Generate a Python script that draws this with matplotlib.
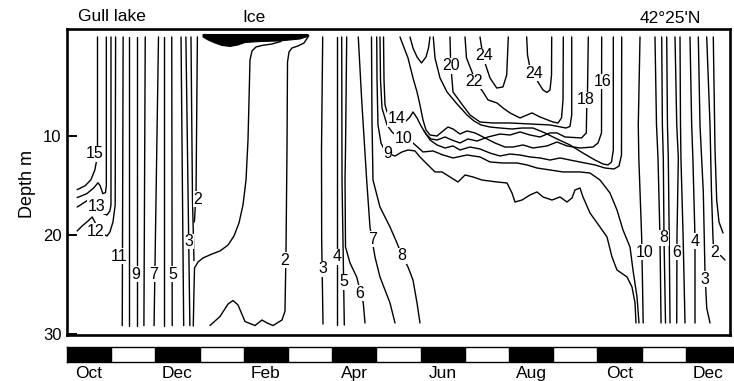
"""
Gull Lake isotherms: depth-time diagram from October to December of the next year.
"""

import matplotlib.pyplot as plt
from matplotlib.patches import Polygon, Rectangle

plt.rcParams["font.family"] = ["Liberation Sans", "DejaVu Sans"]

# t: months since 1 October, z: depth in m
months = ["Oct", "Nov", "Dec", "Jan", "Feb", "Mar", "Apr", "May", "Jun",
          "Jul", "Aug", "Sep", "Oct", "Nov", "Dec"]
depth_ticks = [10, 20, 30]

# --- first autumn ---------------------------------------------------------
t15 = [0.69, 0.69, 0.68, 0.63, 0.54, 0.41, 0.23]
z15 = [-0.1, 10.9, 12.2, 13.4, 14.4, 15.0, 15.4]
t14a = [0.89, 0.89, 0.87, 0.81, 0.75, 0.70, 0.61, 0.45, 0.29, 0.23]
z14a = [-0.1, 15.0, 15.7, 15.8, 15.0, 14.7, 15.2, 15.8, 16.1, 16.2]
t13 = [0.995, 0.995, 0.97, 0.905, 0.79, 0.66, 0.475, 0.34, 0.23]
z13 = [-0.1, 16.95, 17.56, 17.97, 17.77, 17.16, 16.45, 16.85, 17.16]
t12a = [1.10, 1.09, 1.04, 0.97, 0.905, 0.75, 0.63, 0.57, 0.475, 0.34, 0.23]
z12a = [-0.1, 16.95, 18.68, 19.70, 20.10, 19.70, 18.68, 18.17, 18.58, 19.09, 19.59]

# nearly vertical isotherms 11 ... 3 (time at surface / at bottom)
fall1_t_top = [1.27, 1.40, 1.58, 1.77, 2.07, 2.20, 2.37, 2.58, 2.69]
fall1_t_bot = [1.25, 1.40, 1.58, 1.74, 1.97, 2.20, 2.38, 2.64, 2.78]
fall1_z = [-0.1, 29.2]

t2a = [2.95, 2.92, 2.90, 2.885, 2.875]
z2a = [-0.1, 15.4, 17.3, 18.5, 18.7]
t3top = [2.805, 2.839, 2.873]
z3top = [-0.1, 16.4, 22.6]

# --- winter -----------------------------------------------------------------
t3w = [2.857, 2.873, 2.885, 2.964, 3.077, 3.281, 3.462, 3.643, 3.778, 3.891,
       3.982, 4.050, 4.095, 4.118, 4.140, 4.186, 4.276, 4.412, 4.638, 4.842]
z3w = [29.24, 25.58, 23.35, 22.74, 22.33, 21.93, 21.62, 21.02, 20.10, 18.78,
       16.95, 14.42, 10.36, 6.29, 2.23, 1.32, 0.91, 0.76, 0.61, 0.35]
t2w = [5.452, 5.362, 5.226, 5.090, 5.023, 4.989, 4.977, 4.955, 4.932, 4.864,
       4.661, 4.525, 4.412, 4.253, 4.027, 3.869, 3.756, 3.643, 3.462, 3.235]
z2w = [-0.1, 0.51, 0.81, 1.02, 1.42, 2.44, 11.37, 21.52, 27.72, 28.63,
       29.19, 28.93, 28.63, 29.19, 28.78, 27.1, 26.65, 27.01, 28.27, 29.19]
ice_t = [3.077, 5.452, 5.475, 5.271, 4.819, 4.367, 4.027, 3.869, 3.688,
         3.507, 3.348, 3.190, 3.077]
ice_z = [-0.35, -0.35, -0.2, 0.1, 0.3, 0.36, 0.46, 0.71, 0.86, 0.76, 0.51,
         0.2, -0.1]

# --- spring -----------------------------------------------------------------
t3s = [5.785, 5.758, 5.762, 5.792]
z3s = [-0.1, 11.37, 20.51, 29.04]
t4s = [6.102, 6.102]
z4s = [-0.1, 29.14]
t5s = [6.215, 6.222, 6.274]
z5s = [-0.1, 14.42, 29.14]
t6s = [6.328, 6.301, 6.290, 6.301, 6.403, 6.554, 6.703, 6.742]
z6s = [-0.1, 11.37, 14.42, 21.22, 22.84, 24.26, 26.9, 28.93]
t7s = [6.590, 6.667, 6.780, 6.855, 6.968, 7.081, 7.308, 7.421]
z7s = [-0.1, 6.29, 14.42, 19.19, 22.23, 24.26, 26.9, 28.93]
t8s = [6.889, 6.900, 6.923, 7.081, 7.308, 7.466, 7.572, 7.715, 7.828, 7.919, 7.986]
z8s = [-0.1, 8.32, 14.42, 17.16, 19.19, 20.81, 22.03, 23.25, 24.57, 26.9, 28.93]

# --- summer stratification --------------------------------------------------
t9 = [7.007, 7.014, 7.036, 7.104, 7.217, 7.421, 7.579, 7.715, 7.873, 7.986,
      8.213, 8.326, 8.484, 8.665, 8.846, 9.005, 9.186, 9.389, 9.729, 9.955,
      10.068, 10.136, 10.294, 10.475, 10.633, 10.769, 10.973, 11.154, 11.312,
      11.425, 11.493, 11.606, 11.674, 11.833, 12.059, 12.217, 12.330, 12.443,
      12.670, 12.783, 12.851, 12.873]
z9 = [-0.1, 4.26, 8.83, 10.66, 11.68, 11.98, 11.57, 11.37, 11.47, 12.08,
      13.10, 13.60, 13.60, 14.11, 14.62, 13.91, 14.11, 14.42, 14.62, 14.72,
      15.74, 16.65, 16.45, 15.94, 15.63, 16.14, 16.45, 16.14, 16.65,
      16.24, 15.43, 15.23, 16.14, 17.77, 19.19, 20.2, 22.23, 23.55,
      24.26, 25.28, 26.9, 28.93]
t10 = [7.081, 7.093, 7.127, 7.240, 7.353, 7.534, 7.828, 8.054, 8.281, 8.507,
       8.733, 9.050, 9.344, 9.570, 9.864, 10.181, 10.407, 10.633, 10.928,
       11.222, 11.606, 11.833, 12.059, 12.285, 12.443, 12.579, 12.738, 12.805,
       12.896, 12.941]
z10 = [-0.1, 4.26, 7.11, 8.83, 9.54, 10.25, 10.66, 11.57, 11.47, 11.88,
       12.18, 11.88, 12.08, 12.59, 12.69, 12.69, 12.89, 13.20, 13.40,
       13.60, 13.60, 13.71, 14.42, 15.74, 17.46, 19.49, 21.22, 23.55,
       26.29, 28.93]
t12 = [8.077, 8.213, 8.371, 8.552, 8.733, 8.891, 9.118, 9.344, 9.570, 9.796,
       10.023, 10.249, 10.475, 10.701, 10.928, 11.154, 11.380, 11.606, 11.946,
       12.172, 12.376, 12.489, 12.545, 12.550]
z12 = [9.44, 10.36, 10.86, 11.17, 10.96, 11.37, 11.07, 11.27, 11.68, 11.98,
       11.78, 11.88, 12.08, 12.18, 12.39, 12.18, 12.39, 12.59, 12.89,
       13.20, 13.30, 13.0, 11.88, -0.1]
t14 = [7.161, 7.172, 7.195, 7.240, 7.466, 7.670, 7.760, 7.828, 7.919, 8.009,
       8.122, 8.235, 8.371, 8.552, 8.710, 8.891, 9.072, 9.276, 9.525, 9.796,
       10.023, 10.249, 10.475, 10.701, 10.928, 11.086, 11.267, 11.640, 11.749,
       11.758, 11.776, 11.794]
z14 = [-0.1, 4.26, 6.80, 7.51, 8.12, 8.43, 8.02, 7.51, 8.12, 8.93,
       9.75, 10.25, 10.36, 10.05, 10.36, 10.66, 10.25, 10.46, 10.05, 9.75,
       9.85, 9.54, 9.85, 10.05, 9.64, 9.64, 10.05, 10.15, 9.64,
       7.31, 5.48, -0.1]
t16 = [7.534, 7.602, 7.715, 7.828, 7.919, 7.986, 8.054, 8.122, 8.213, 8.371,
       8.507, 8.620, 8.733, 8.891, 9.050, 9.231, 9.457, 9.683, 9.910, 10.090,
       10.317, 10.543, 10.860, 11.086, 11.312, 11.606, 11.900, 12.014, 12.093,
       12.097]
z16 = [-0.1, 0.71, 2.03, 4.06, 5.48, 6.80, 8.32, 9.34, 9.85, 9.95,
       9.44, 9.04, 9.24, 9.75, 9.44, 9.64, 10.15, 10.66, 11.07, 11.07,
       10.86, 11.17, 10.96, 10.56, 10.96, 11.17, 11.07, 10.66, 9.64, -0.1]
t18 = [8.287, 8.326, 8.439, 8.597, 8.824, 9.050, 9.208, 9.367, 9.570, 9.796,
       10.068, 10.294, 10.543, 10.814, 11.086, 11.380, 11.674, 11.946, 12.127,
       12.240, 12.319, 12.360, 12.360]
z18 = [-0.1, 2.03, 4.06, 5.48, 6.70, 7.82, 8.43, 8.83, 9.04, 9.14,
       9.24, 9.14, 9.14, 9.64, 10.25, 10.86, 11.68, 12.39, 12.79,
       12.89, 12.59, 11.37, -0.1]
t20 = [8.665, 8.677, 8.699, 8.733, 8.914, 9.118, 9.344, 9.638, 10.023, 10.475,
       10.928, 11.290, 11.380, 11.419, 11.419]
z20 = [-0.1, 2.03, 3.55, 5.48, 6.60, 7.82, 8.53, 8.63, 8.63, 8.73,
       8.83, 9.14, 8.98, 7.82, -0.1]
t20b = [7.760, 7.828, 7.919, 8.020, 8.122, 8.179, 8.213]
z20b = [-0.1, 1.02, 1.93, 2.54, 1.93, 1.02, -0.1]
t22 = [9.005, 9.038, 9.163, 9.231, 9.412, 9.525, 9.729, 9.864, 10.023, 10.249,
       10.407, 10.520, 10.701, 10.995, 11.109, 11.188, 11.222, 11.229]
z22 = [-0.1, 2.03, 3.45, 4.37, 5.48, 6.29, 6.60, 7.11, 7.61, 8.12,
       7.82, 7.61, 8.02, 8.53, 8.63, 8.12, 6.29, -0.1]
t24a = [9.344, 9.382, 9.434, 9.457, 9.570, 9.722, 9.864, 9.948, 9.984]
z24a = [-0.1, 1.02, 1.83, 2.54, 4.06, 5.08, 4.97, 3.76, -0.1]
t24b = [10.400, 10.419, 10.475, 10.656, 10.769, 10.860, 10.928, 10.962, 10.966]
z24b = [-0.1, 1.73, 3.05, 4.47, 5.28, 5.53, 5.28, 3.76, -0.1]

# --- second autumn: isotherms 10 ... 4 at common depths --------------------
fall2_z = [-0.1, 8.83, 12.18, 20.3, 28.93]
fall2_t = [
    [12.964, 12.925, 12.937, 13.002, 13.036],
    [13.303, 13.337, 13.371, 13.416, 13.440],
    [13.455, 13.470, 13.491, 13.507, 13.541],
    [13.568, 13.585, 13.604, 13.625, 13.643],
    [13.756, 13.795, 13.831, 13.800, 13.795],
    [13.869, 13.880, 13.890, 13.940, 13.982],
    [14.095, 14.133, 14.160, 14.208, 14.208],
]
t3f = [14.283, 14.321, 14.396, 14.434, 14.473, 14.548]
z3f = [-0.1, 8.83, 15.63, 23.76, 27.41, 28.93]
t2f = [14.473, 14.548, 14.581, 14.615, 14.627]
z2f = [-0.1, 8.83, 15.63, 20.3, 21.32]
t2f_tail = [14.785, 14.887]
z2f_tail = [22.08, 22.54]
t1f = [14.622, 14.661, 14.699, 14.751, 14.842]
z1f = [-0.1, 11.37, 16.45, 18.68, 19.80]

# isotherm labels: text, month, depth
iso_labels = [
    ("15", 0.633, 11.73), ("13", 0.667, 17.1), ("12", 0.656, 19.64),
    ("11", 1.188, 22.18), ("9", 1.561, 23.96), ("7", 1.957, 23.96),
    ("5", 2.387, 23.96), ("3", 2.760, 20.66), ("2", 2.952, 16.35),
    ("2", 4.932, 22.54),
    ("3", 5.792, 23.45), ("4", 6.102, 22.23), ("5", 6.274, 24.77),
    ("6", 6.629, 25.89), ("7", 6.923, 20.41), ("8", 7.572, 22.13),
    ("14", 7.455, 8.22), ("10", 7.613, 10.25), ("9", 7.251, 11.68),
    ("20", 8.688, 2.84), ("22", 9.208, 4.42), ("24", 9.434, 1.83),
    ("24", 10.566, 3.6), ("18", 11.742, 6.29), ("16", 12.115, 4.42),
    ("10", 13.077, 21.73), ("8", 13.507, 20.3), ("6", 13.801, 21.73),
    ("4", 14.208, 20.61), ("3", 14.434, 24.47), ("2", 14.661, 21.73),
]

W, H = 734, 381
fig = plt.figure(figsize=(W / 100, H / 100), dpi=100)
ax = fig.add_axes([67 / W, 1 - 334.5 / H, 663 / W, 305.5 / H])
ax.set_xlim(0, 15)
ax.set_ylim(30.1, -0.91)

line_kw = dict(color="black", lw=1.0, solid_joinstyle="round", solid_capstyle="round")

curves = [
    (t15, z15), (t14a, z14a), (t13, z13), (t12a, z12a), (t2a, z2a), (t3top, z3top),
    (t3w, z3w), (t2w, z2w),
    (t3s, z3s), (t4s, z4s), (t5s, z5s), (t6s, z6s), (t7s, z7s), (t8s, z8s),
    (t9, z9), (t10, z10), (t12, z12), (t14, z14), (t16, z16), (t18, z18),
    (t20, z20), (t20b, z20b), (t22, z22), (t24a, z24a), (t24b, z24b),
    (t3f, z3f), (t2f, z2f), (t2f_tail, z2f_tail), (t1f, z1f),
]
for t, z in curves:
    ax.plot(t, z, **line_kw)

for tt, tb in zip(fall1_t_top, fall1_t_bot):
    ax.plot([tt, tb], fall1_z, **line_kw)

for t in fall2_t:
    ax.plot(t, fall2_z, **line_kw)

ax.add_patch(Polygon(list(zip(ice_t, ice_z)), closed=True,
                     facecolor="black", edgecolor="black", lw=0.8, zorder=3))

for s, t, z in iso_labels:
    ax.text(t, z, s, ha="center", va="center", fontsize=11.5,
            bbox=dict(facecolor="white", edgecolor="none", pad=0.4), zorder=4)

for side in ax.spines.values():
    side.set_linewidth(1.9)
ax.set_xticks([])
ax.set_yticks(depth_ticks)
ax.tick_params(axis="y", direction="in", length=7, width=1.4, labelsize=12, pad=4)

# month bar below the plot
axb = fig.add_axes([67 / W, 1 - 362 / H, 667 / W, 15 / H])
axb.set_xlim(0, 15 * 667 / 663)
axb.set_ylim(0, 1)
for i in range(0, len(months), 2):
    axb.add_patch(Rectangle((i, 0), 1 if i < len(months) - 1 else 2, 1, color="black"))
axb.set_yticks([])
axb.set_xticks([i + 0.5 for i in range(0, len(months), 2)],
               [months[i] for i in range(0, len(months), 2)])
axb.tick_params(axis="x", length=0, labelsize=12.5, pad=3)
for side in axb.spines.values():
    side.set_linewidth(1.0)

fig.text(78 / W, 1 - 16.5 / H, "Gull lake", fontsize=12.5, ha="left", va="center")
fig.text(254 / W, 1 - 17.5 / H, "Ice", fontsize=12.5, ha="center", va="center")
fig.text(670 / W, 1 - 18.5 / H, "42°25'N", fontsize=12.5, ha="center", va="center")
fig.text(27.5 / W, 1 - 184 / H, "Depth m", fontsize=13, rotation=90,
         ha="center", va="center")

fig.savefig("out.png", dpi=100)
